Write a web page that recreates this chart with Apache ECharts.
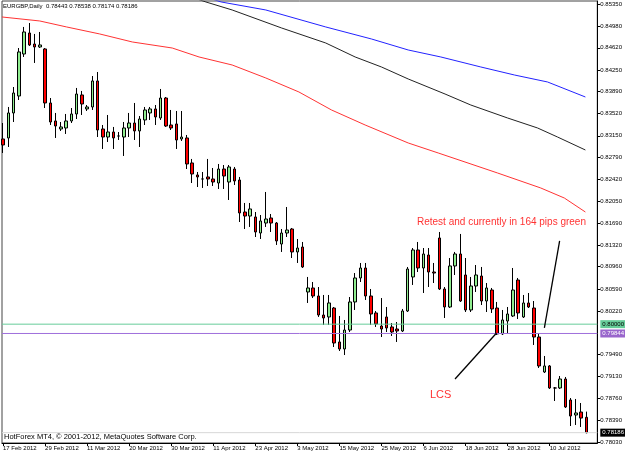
<!DOCTYPE html>
<html>
<head>
<meta charset="utf-8">
<script src="https://cdn.jsdelivr.net/npm/echarts@6/dist/echarts.min.js"></script>
<style>
  html, body { margin: 0; padding: 0; background: #fff; }
  #main { width: 625px; height: 455px; }
</style>
</head>
<body>
<div id="main"></div>
<script>
  // EURGBP Daily, one candle per trading day from 17 Feb 2012
  const opens = [
    0.83096, 0.83113, 0.83531, 0.83815, 0.84517, 0.84868, 0.84684, 0.84634, 0.84601, 0.83698,
    0.83397, 0.83263, 0.83280, 0.83397, 0.83514, 0.83832, 0.83598, 0.83631, 0.84066, 0.83263,
    0.83129, 0.83213, 0.83146, 0.83129, 0.83280, 0.83363, 0.83230, 0.83414, 0.83531, 0.83598,
    0.83447, 0.83781, 0.83330, 0.83347, 0.83096, 0.83113, 0.82695, 0.82494, 0.82427, 0.82461,
    0.82427, 0.82360, 0.82594, 0.82377, 0.82594, 0.82410, 0.81875, 0.81808, 0.81792, 0.81524,
    0.81691, 0.81775, 0.81691, 0.81340, 0.81524, 0.81591, 0.81207, 0.81290, 0.80538, 0.80605,
    0.80471, 0.80153, 0.80120, 0.80270, 0.79702, 0.79585, 0.79902, 0.80371, 0.80772, 0.80939,
    0.80471, 0.80187, 0.79969, 0.80120, 0.79953, 0.79919, 0.79886, 0.80220, 0.80789, 0.81240,
    0.80939, 0.81156, 0.80872, 0.81441, 0.80588, 0.80287, 0.80973, 0.81173, 0.80822, 0.80237,
    0.80638, 0.80805, 0.80387, 0.80571, 0.80270, 0.79836, 0.80053, 0.80137, 0.80738, 0.80120,
    0.80354, 0.80270, 0.79785, 0.79200, 0.79301, 0.78933, 0.78933, 0.79083, 0.78732, 0.78481,
    0.78531, 0.78443
  ];
  const closes = [
    0.82996, 0.83531, 0.83865, 0.84551, 0.84885, 0.84668, 0.84634, 0.84668, 0.83698, 0.83380,
    0.83313, 0.83297, 0.83397, 0.83514, 0.83848, 0.83681, 0.83631, 0.84066, 0.83246, 0.83129,
    0.83213, 0.83113, 0.83146, 0.83280, 0.83363, 0.83230, 0.83430, 0.83581, 0.83598, 0.83464,
    0.83781, 0.83313, 0.83280, 0.83079, 0.83129, 0.82678, 0.82511, 0.82461, 0.82427, 0.82427,
    0.82377, 0.82594, 0.82477, 0.82628, 0.82394, 0.81859, 0.81808, 0.81926, 0.81541, 0.81725,
    0.81758, 0.81691, 0.81391, 0.81524, 0.81574, 0.81207, 0.81273, 0.80956, 0.80605, 0.80471,
    0.80153, 0.80103, 0.80354, 0.79685, 0.79585, 0.79902, 0.80371, 0.80772, 0.80939, 0.80471,
    0.80170, 0.80003, 0.79919, 0.79936, 0.79869, 0.79886, 0.80220, 0.80922, 0.81240, 0.80939,
    0.81173, 0.80872, 0.80855, 0.80588, 0.80287, 0.80973, 0.81173, 0.80387, 0.80237, 0.80638,
    0.80822, 0.80387, 0.80605, 0.80254, 0.79836, 0.80070, 0.80170, 0.80571, 0.80187, 0.80354,
    0.80287, 0.79785, 0.79301, 0.79301, 0.78933, 0.78933, 0.79083, 0.78615, 0.78464, 0.78515,
    0.78430, 0.78186
  ];
  const lows = [
    0.82862, 0.82962, 0.83380, 0.83748, 0.84467, 0.84651, 0.84367, 0.84617, 0.83614, 0.83330,
    0.83113, 0.83230, 0.83180, 0.83363, 0.83430, 0.83497, 0.83564, 0.83581, 0.83129, 0.82929,
    0.83046, 0.82929, 0.83079, 0.82812, 0.83129, 0.83079, 0.82962, 0.83330, 0.83414, 0.83330,
    0.83414, 0.83297, 0.83246, 0.82929, 0.83063, 0.82594, 0.82360, 0.82293, 0.82277, 0.82310,
    0.82310, 0.82260, 0.82260, 0.82076, 0.82327, 0.81708, 0.81591, 0.81625, 0.81457, 0.81424,
    0.81625, 0.81541, 0.81324, 0.81207, 0.81457, 0.81106, 0.81023, 0.80939, 0.80354, 0.80437,
    0.80120, 0.79986, 0.79986, 0.79618, 0.79551, 0.79484, 0.79869, 0.80237, 0.80705, 0.80404,
    0.79986, 0.79953, 0.79785, 0.79869, 0.79802, 0.79702, 0.79869, 0.80203, 0.80655, 0.80872,
    0.80521, 0.80621, 0.80688, 0.80571, 0.80103, 0.80270, 0.80822, 0.80371, 0.80203, 0.80203,
    0.80538, 0.80320, 0.80203, 0.80187, 0.79819, 0.79819, 0.79852, 0.80120, 0.80086, 0.80103,
    0.80270, 0.79652, 0.79267, 0.79183, 0.78916, 0.78715, 0.78916, 0.78598, 0.78297, 0.78314,
    0.78281, 0.78174
  ];
  const highs = [
    0.83363, 0.83631, 0.83965, 0.84617, 0.84969, 0.85035, 0.84852, 0.84885, 0.84617, 0.83781,
    0.83531, 0.83380, 0.83514, 0.83614, 0.83949, 0.83899, 0.83664, 0.84149, 0.84216, 0.83330,
    0.83497, 0.83297, 0.83213, 0.83380, 0.83531, 0.83698, 0.83480, 0.83631, 0.83631, 0.83664,
    0.83932, 0.83798, 0.83581, 0.83564, 0.83564, 0.83163, 0.82762, 0.82544, 0.82544, 0.82762,
    0.82611, 0.82678, 0.82661, 0.82661, 0.82628, 0.82461, 0.82026, 0.82026, 0.81875, 0.81825,
    0.82210, 0.81842, 0.81708, 0.81591, 0.81959, 0.81608, 0.81424, 0.81374, 0.80789, 0.80705,
    0.80621, 0.80488, 0.80488, 0.80287, 0.80137, 0.80070, 0.80454, 0.80855, 0.81023, 0.81023,
    0.80588, 0.80220, 0.80437, 0.80287, 0.80019, 0.80036, 0.80254, 0.80956, 0.81273, 0.81374,
    0.81273, 0.81273, 0.81023, 0.81541, 0.80621, 0.81106, 0.81207, 0.81508, 0.81106, 0.80789,
    0.80989, 0.80956, 0.80688, 0.80605, 0.80371, 0.80237, 0.80287, 0.80939, 0.80772, 0.80488,
    0.80521, 0.80387, 0.79852, 0.79468, 0.79317, 0.78949, 0.79133, 0.79117, 0.78765, 0.78749,
    0.78682, 0.78538
  ];

  // moving averages, read at a few bars each: [bar, price]
  const maRed = [
    [-0.2, 0.85136], [7.0, 0.85069], [12.1, 0.84969], [18.4, 0.84852], [24.6, 0.84718],
    [32.2, 0.84617], [37.3, 0.84467], [43.6, 0.84333], [50.0, 0.84116], [56.3, 0.83882],
    [62.5, 0.83581], [68.9, 0.83330], [77.1, 0.83029], [82.8, 0.82862], [87.9, 0.82711],
    [94.1, 0.82527], [102.3, 0.82277], [106.8, 0.82109], [110.8, 0.81875]
  ];
  const maBlack = [
    [36.4, 0.85453], [38.6, 0.85387], [43.6, 0.85253], [53.0, 0.84952], [61.4, 0.84701],
    [67.0, 0.84467], [72.0, 0.84300], [77.1, 0.84099], [84.1, 0.83848], [89.0, 0.83664],
    [96.0, 0.83447], [101.7, 0.83280], [105.5, 0.83129], [110.8, 0.82912]
  ];
  const maBlue = [
    [39.2, 0.85453], [41.5, 0.85387], [50.0, 0.85253], [61.4, 0.84969], [70.1, 0.84768],
    [77.1, 0.84584], [83.3, 0.84467], [90.9, 0.84300], [97.3, 0.84166], [103.6, 0.84049],
    [110.8, 0.83798]
  ];

  // horizontal levels and hand drawn trend lines
  const levelGreen = 0.80000;
  const levelPurple = 0.79844;
  const bidPrice = 0.78186;
  const lcsLine = [[86.0, 0.79083], [93.9, 0.79852]];
  const retestLine = [[103.0, 0.79936], [105.9, 0.81391]];

  // axis labels
  const priceTicks = [
    0.85350, 0.84980, 0.84620, 0.84250, 0.83890, 0.83520, 0.83150, 0.82790, 0.82420, 0.82050,
    0.81690, 0.81320, 0.80960, 0.80590, 0.80220, 0.79490, 0.79130, 0.78760, 0.78390, 0.78030
  ];
  const dateLabels = [
    '17 Feb 2012', '29 Feb 2012', '11 Mar 2012', '20 Mar 2012', '30 Mar 2012', '11 Apr 2012',
    '23 Apr 2012', '3 May 2012', '15 May 2012', '25 May 2012', '6 Jun 2012', '18 Jun 2012',
    '28 Jun 2012', '10 Jul 2012'
  ];
  const dateBars = dateLabels.map((d, i) => i * 8);

  const xMin = -0.19;
  const xMax = 113.07;
  const font = 'Liberation Sans, Arial, sans-serif';
  const candles = opens.map((o, i) => [i, o, closes[i], lows[i], highs[i]]);

  // a horizontal level across the chart, with its price tag on the axis
  function levelSeries(value, lineColor, tagColor, textColor) {
    return {
      type: 'line', silent: true, showSymbol: false, color: lineColor,
      data: [[xMin, value], [xMax, value]],
      lineStyle: { color: lineColor, width: 1 },
      endLabel: {
        show: true, distance: 3,
        formatter: p => p.value[1].toFixed(5),
        backgroundColor: tagColor,
        color: textColor, fontSize: 6, fontFamily: font, padding: [1, 2]
      }
    };
  }

  function trendSeries(points) {
    return {
      type: 'line', data: [], silent: true, color: '#000',
      markLine: {
        silent: true,
        precision: 5,
        symbol: ['none', 'none'],
        lineStyle: { color: '#000', width: 1.3, type: 'solid' },
        label: { show: false },
        data: [[{ coord: points[0] }, { coord: points[1] }]]
      }
    };
  }

  const chart = echarts.init(document.getElementById('main'));

  const option = {
    animation: false,
    backgroundColor: '#fff',
    grid: {
      left: 2, right: 24, top: 1, bottom: 12,
      show: true, borderColor: '#444', borderWidth: 1
    },
    xAxis: {
      type: 'value',
      min: xMin,
      max: xMax,
      splitLine: { show: false },
      axisLine: { show: true, onZero: false, lineStyle: { color: '#000' } },
      axisTick: { show: true, customValues: dateBars, length: 3, lineStyle: { color: '#000' } },
      axisLabel: {
        customValues: dateBars,
        formatter: v => dateLabels[Math.round(v / 8)],
        fontSize: 6, color: '#000', fontFamily: font, align: 'left', margin: 2
      }
    },
    yAxis: {
      type: 'value',
      position: 'right',
      min: 0.78013,
      max: 0.85403,
      splitLine: { show: false },
      axisLine: { show: true, onZero: false, lineStyle: { color: '#000' } },
      axisTick: { show: true, customValues: priceTicks, length: 3, lineStyle: { color: '#000' } },
      axisLabel: {
        customValues: priceTicks,
        formatter: v => v.toFixed(5),
        fontSize: 6, color: '#000', fontFamily: font, margin: 3
      }
    },
    series: [
      levelSeries(bidPrice, '#D8D8D8', '#000', '#fff'),
      levelSeries(levelGreen, '#66CC99', '#66CC99', '#000'),
      levelSeries(levelPurple, '#A070DC', '#9966CC', '#fff'),
      {
        name: 'MA red', type: 'line', data: maRed, showSymbol: false, silent: true,
        lineStyle: { color: '#FF3333', width: 1 }
      },
      {
        name: 'MA black', type: 'line', data: maBlack, showSymbol: false, silent: true,
        lineStyle: { color: '#222', width: 1 }
      },
      {
        name: 'MA blue', type: 'line', data: maBlue, showSymbol: false, silent: true,
        lineStyle: { color: '#2222FF', width: 1 }
      },
      {
        name: 'EURGBP', type: 'candlestick', data: candles,
        barWidth: 3,
        itemStyle: {
          color: '#90EE90', color0: '#FF0000',
          borderColor: '#000', borderColor0: '#000', borderColorDoji: '#000', borderWidth: 1
        }
      },
      trendSeries(lcsLine),
      trendSeries(retestLine)
    ],
    graphic: [
      {
        type: 'text', left: 3, top: 3, silent: true,
        style: { text: 'EURGBP,Daily  0.78443 0.78538 0.78174 0.78186', fontSize: 6, fill: '#000', fontFamily: font }
      },
      {
        type: 'text', left: 4, top: 433, silent: true,
        style: { text: 'HotForex MT4, \u00A9 2001-2012, MetaQuotes Software Corp.', fontSize: 7.5, fill: '#000', fontFamily: font }
      },
      {
        type: 'text', left: 417, top: 217, silent: true,
        style: { text: 'Retest and currently in 164 pips green', fontSize: 10, fill: '#FF3333', fontFamily: font }
      },
      {
        type: 'text', left: 430, top: 389, silent: true,
        style: { text: 'LCS', fontSize: 11, fill: '#FF3333', fontFamily: font }
      }
    ]
  };

  chart.setOption(option);
</script>
</body>
</html>
